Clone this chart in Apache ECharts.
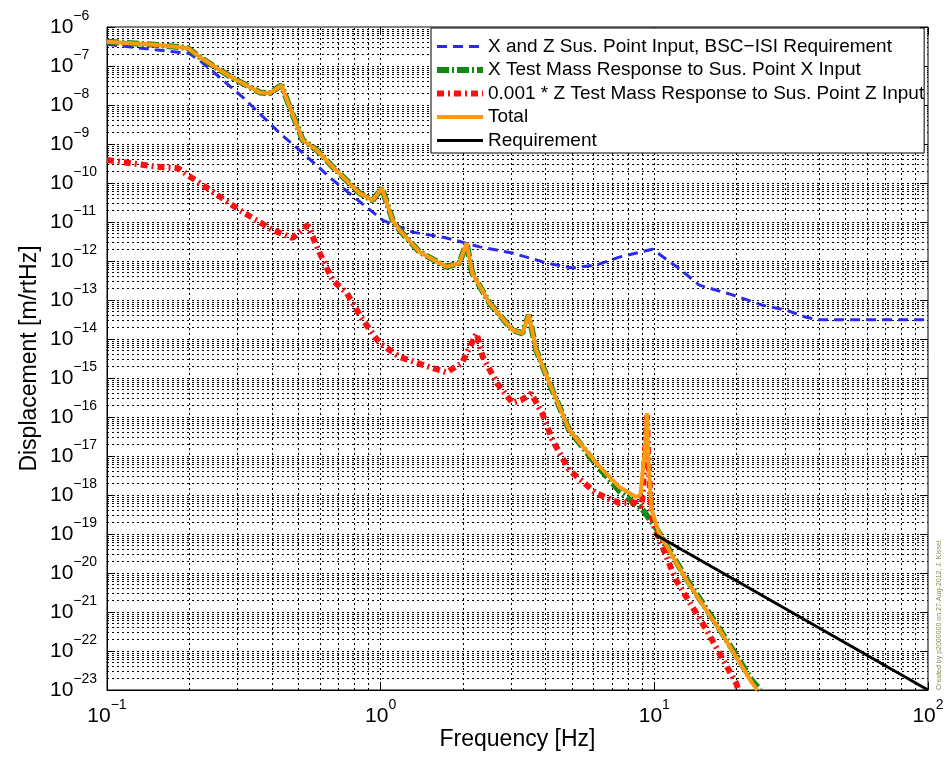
<!DOCTYPE html>
<html>
<head>
<meta charset="utf-8">
<title>Suspension point noise to test mass displacement</title>
<script src="https://cdn.jsdelivr.net/npm/echarts@6/dist/echarts.min.js"></script>
<style>
  html, body { margin: 0; padding: 0; background: #fff; }
  #chart { width: 951px; height: 757px; }
</style>
</head>
<body>
<div id="chart"></div>
<script>
// Series names (legend order)
const seriesNames = [
  'X and Z Sus. Point Input, BSC\u2212ISI Requirement',
  'X Test Mass Response to Sus. Point X Input',
  '0.001 * Z Test Mass Response to Sus. Point Z Input',
  'Total',
  'Requirement'
];

// Axis ranges
const xRange = [0.1, 100];
const yRange = [1e-23, 1e-6];
// Decade exponents used for the displacement tick labels
const yExpRange = [-23, -6];

// BSC-ISI requirement at the suspension point [m/rtHz]
const isiFreq = [0.1, 0.15, 0.2, 0.218, 0.313, 0.428, 0.519, 0.668, 0.889, 1.02, 1.31, 1.74, 2.30, 3.03, 4.04, 5.02, 6.14, 7.45, 9.84, 12.3, 14.6, 19.3, 24.8, 30.3, 35.9, 40, 100];
const isiDisp = [3.6e-7, 2.6e-7, 2.1e-7, 1.4e-7, 1.6e-8, 1.9e-9, 5.9e-10, 1.2e-10, 2.4e-11, 1.1e-11, 5.5e-12, 3.9e-12, 2.3e-12, 1.6e-12, 8.9e-13, 6.6e-13, 7.9e-13, 1.26e-12, 2.0e-12, 6.5e-13, 2.4e-13, 1.35e-13, 7.4e-14, 5.5e-14, 3.6e-14, 3.1e-14, 3.1e-14];

// Test mass X response to suspension point X input
const xRespFreq = [0.1, 0.15, 0.197, 0.218, 0.288, 0.362, 0.393, 0.434, 0.465, 0.519, 0.583, 0.668, 0.837, 0.935, 1.01, 1.107, 1.17, 1.387, 1.74, 1.94, 2.06, 2.16, 2.50, 3.03, 3.29, 3.48, 3.70, 4.24, 4.88, 6.14, 7.45, 8.57, 9.0, 10.1, 13.1, 17.3, 22.8, 24.4];
const xRespDisp = [4.2e-7, 3.5e-7, 2.9e-7, 1.7e-7, 4.9e-8, 2.1e-8, 2.0e-8, 3.2e-8, 8.9e-9, 1.26e-9, 7.1e-10, 2.6e-10, 5.5e-11, 3.6e-11, 7.4e-11, 1.1e-11, 6.3e-12, 1.7e-12, 7.1e-13, 8.9e-13, 2.9e-12, 4.9e-13, 8.3e-14, 1.7e-14, 1.4e-14, 4.2e-14, 5.2e-15, 4.9e-16, 4.7e-17, 6.0e-18, 1.26e-18, 5.6e-19, 4.5e-19, 1.5e-19, 7.1e-21, 3.7e-22, 1.7e-23, 1.0e-23];

// 0.001 x test mass Z response to suspension point Z input
const zRespFreq = [0.1, 0.152, 0.182, 0.197, 0.238, 0.306, 0.404, 0.476, 0.541, 0.599, 0.668, 0.752, 0.85, 0.99, 1.17, 1.51, 1.74, 1.98, 2.24, 2.36, 2.66, 3.03, 3.29, 3.55, 3.89, 4.24, 4.88, 6.14, 7.45, 8.57, 9.0, 9.3, 9.4, 9.5, 9.75, 10.0, 12.0, 15.5, 19.9, 20.3];
const zRespDisp = [3.9e-10, 2.6e-10, 2.4e-10, 1.6e-10, 6.6e-11, 2.0e-11, 6.2e-12, 3.9e-12, 8.3e-12, 1.6e-12, 3.2e-13, 1.5e-13, 3.5e-14, 7.9e-15, 3.5e-15, 1.9e-15, 1.4e-15, 2.4e-15, 1.4e-14, 3.5e-15, 7.4e-16, 2.3e-16, 2.8e-16, 4.0e-16, 1.26e-16, 2.6e-17, 4.4e-18, 1.1e-18, 6.2e-19, 6.3e-19, 5.0e-19, 2.5e-17, 1.1e-16, 1.0e-17, 3.2e-19, 1.5e-19, 6.6e-21, 3.5e-22, 1.5e-23, 1.0e-23];

// Total test mass displacement
const totalFreq = [0.1, 0.15, 0.197, 0.218, 0.288, 0.362, 0.393, 0.434, 0.465, 0.519, 0.583, 0.668, 0.837, 0.935, 1.01, 1.107, 1.17, 1.387, 1.74, 1.94, 2.06, 2.16, 2.50, 3.03, 3.29, 3.48, 3.70, 4.24, 4.88, 6.14, 7.45, 8.57, 8.9, 9.3, 9.4, 9.5, 9.75, 10.4, 13.1, 17.3, 22.8, 23.8];
const totalDisp = [4.2e-7, 3.5e-7, 2.9e-7, 1.7e-7, 4.9e-8, 2.1e-8, 2.0e-8, 3.2e-8, 8.9e-9, 1.26e-9, 7.1e-10, 2.6e-10, 5.5e-11, 3.6e-11, 7.4e-11, 1.1e-11, 6.3e-12, 1.7e-12, 7.1e-13, 8.9e-13, 2.9e-12, 4.9e-13, 8.3e-14, 1.7e-14, 1.4e-14, 4.2e-14, 5.2e-15, 4.9e-16, 4.7e-17, 6.6e-18, 1.6e-18, 8.9e-19, 1.0e-18, 2.5e-17, 1.26e-16, 1.0e-17, 4.5e-19, 1.07e-19, 6.6e-21, 3.5e-22, 1.5e-23, 1.0e-23];

// Requirement line
const reqFreq = [10, 100];
const reqDisp = [1e-19, 1e-23];

const FONT = "'Liberation Sans', Arial, Helvetica, sans-serif";

function pairs(fs, vs) { return fs.map((f, i) => [f, vs[i]]); }

// dotted grid lines at every m x 10^n (m = 1..9) strictly inside the range
function gridValues(lo, hi) {
  const out = [];
  const e0 = Math.round(Math.log10(lo)), e1 = Math.round(Math.log10(hi));
  for (let e = e0; e < e1; e++) {
    for (let m = 1; m <= 9; m++) {
      if (e === e0 && m === 1) continue;
      out.push(m * Math.pow(10, e));
    }
  }
  return out;
}
const vLines = gridValues(xRange[0], xRange[1]).map(v => [{ coord: [v, yRange[0]] }, { coord: [v, yRange[1]] }]);
const hLines = gridValues(yRange[0], yRange[1]).map(v => [{ coord: [xRange[0], v] }, { coord: [xRange[1], v] }]);

// "10^n" label from a power of ten / from an exponent
const supText = (e) => '{b|10}{s|' + (e < 0 ? '\u2212' + (-e) : e) + '}';
const powLabel = (v) => supText(Math.round(Math.log10(v)));
const expLabel = (e) => supText(Math.round(e));
const labelRich = {
  b: { fontFamily: FONT, fontSize: 21, color: '#000', lineHeight: 36 },
  s: { fontFamily: FONT, fontSize: 14, color: '#000', lineHeight: 14, verticalAlign: 'top' }
};
const tickStyle = { inside: true, length: 8, lineStyle: { color: '#000' } };

const chart = echarts.init(document.getElementById('chart'), null, { renderer: 'canvas' });

const option = {
  backgroundColor: '#fff',
  animation: false,
  grid: {
    left: 107, right: 23, top: 27, bottom: 67,
    outerBoundsMode: 'none', containLabel: false,
    show: true, borderColor: '#000', borderWidth: 1, backgroundColor: 'transparent'
  },
  xAxis: [{
    type: 'log', logBase: 10, min: xRange[0], max: xRange[1],
    name: 'Frequency [Hz]', nameLocation: 'middle', nameGap: 38, nameMoveOverlap: false,
    nameTextStyle: { fontFamily: FONT, fontSize: 23, color: '#000' },
    axisLine: { lineStyle: { color: '#000', width: 1 } },
    axisTick: tickStyle,
    axisLabel: { margin: 8, formatter: powLabel, rich: labelRich },
    splitLine: { show: false }
  }, {
    type: 'log', logBase: 10, min: xRange[0], max: xRange[1], position: 'top',
    axisLine: { show: false },
    axisTick: tickStyle,
    axisLabel: { show: false }, splitLine: { show: false }
  }],
  yAxis: [{
    // log scale carrying the data
    type: 'log', logBase: 10, min: yRange[0], max: yRange[1],
    axisLine: { lineStyle: { color: '#000', width: 1 } },
    axisTick: { show: false },
    axisLabel: { show: false },
    splitLine: { show: false }
  }, {
    // decade labels, in exponent units
    type: 'value', min: yExpRange[0], max: yExpRange[1], interval: 1, position: 'left',
    name: 'Displacement [m/rtHz]', nameLocation: 'middle', nameGap: 66, nameRotate: 90, nameMoveOverlap: false,
    nameTextStyle: { fontFamily: FONT, fontSize: 23, color: '#000' },
    axisLine: { show: false },
    axisTick: tickStyle,
    axisLabel: { margin: 57, align: 'left', formatter: expLabel, rich: labelRich, hideOverlap: false, showMinLabel: true, showMaxLabel: true },
    splitLine: { show: false }
  }, {
    type: 'value', min: yExpRange[0], max: yExpRange[1], interval: 1, position: 'right',
    axisLine: { show: false },
    axisTick: tickStyle,
    axisLabel: { show: false }, splitLine: { show: false }
  }],
  legend: {
    data: seriesNames,
    orient: 'vertical', left: 431, top: 28, z: 10,
    backgroundColor: '#fff', borderColor: '#000', borderWidth: 1,
    padding: [9, 0, 3, 3],
    itemWidth: 46, itemHeight: 14, itemGap: 4.5,
    textStyle: { fontFamily: FONT, fontSize: 19, lineHeight: 19, color: '#000' },
    lineStyle: { width: 'inherit' },
    itemStyle: { opacity: 0 },
    selectedMode: false
  },
  graphic: [{
    type: 'text', x: 939, y: 690, rotation: Math.PI / 2, silent: true,
    style: { text: 'Created by p2000000 on 27-Aug-2012, J. Kissel', fontFamily: FONT, fontSize: 7, fill: '#8a8a55', align: 'left', verticalAlign: 'middle' }
  }],
  series: [
    {
      name: '_grid', type: 'line', data: [[xRange[0], yRange[0]]], symbol: 'none', silent: true, z: 1,
      lineStyle: { opacity: 0 },
      markLine: {
        z: 1, silent: true, symbol: 'none', animation: false,
        label: { show: false },
        lineStyle: { color: '#000', width: 1, type: [2, 3], opacity: 1 },
        data: vLines.concat(hLines)
      }
    },
    {
      name: seriesNames[0], type: 'line', data: pairs(isiFreq, isiDisp), symbol: 'none', z: 2,
      lineStyle: { color: '#2a2af0', width: 3, type: [10, 6] }
    },
    {
      name: seriesNames[1], type: 'line', data: pairs(xRespFreq, xRespDisp), symbol: 'none', z: 2,
      lineStyle: { color: '#118a11', width: 6, type: [12, 3, 2, 3], cap: 'butt' }
    },
    {
      name: seriesNames[2], type: 'line', data: pairs(zRespFreq, zRespDisp), symbol: 'none', z: 2,
      lineStyle: { color: '#ff1010', width: 6, type: [7, 4, 2, 4], cap: 'butt' }
    },
    {
      name: seriesNames[3], type: 'line', data: pairs(totalFreq, totalDisp), symbol: 'none', z: 2,
      lineStyle: { color: '#ff9a10', width: 4 }
    },
    {
      name: seriesNames[4], type: 'line', data: pairs(reqFreq, reqDisp), symbol: 'none', z: 2,
      lineStyle: { color: '#000', width: 3 }
    }
  ]
};

chart.setOption(option);
</script>
</body>
</html>
